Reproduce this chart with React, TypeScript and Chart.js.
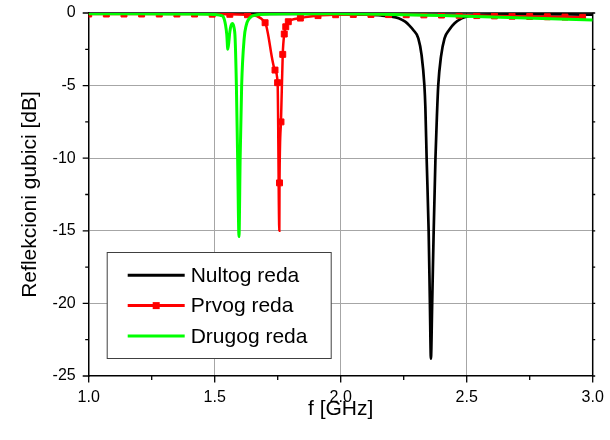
import React, { useEffect, useRef } from "react";
import { Chart, registerables } from "chart.js";

Chart.register(...registerables);

// Axis ranges / ticks
const xMin = 1.0;
const xMax = 3.0;
const xStep = 0.5;
const yMin = -25;
const yMax = 0;
const yStep = 5;

// Series: Nultog reda (black)
const nultogFreq = [1.0, 1.2, 1.4, 1.6, 1.8, 2.0, 2.1, 2.16, 2.2, 2.23, 2.256, 2.272, 2.288, 2.308, 2.321, 2.332, 2.336, 2.341, 2.349, 2.354, 2.358, 2.363, 2.369, 2.376, 2.382, 2.387, 2.398, 2.412, 2.43, 2.452, 2.48, 2.505, 2.55, 2.6, 2.7, 2.8, 2.9, 3.0];
const nultogLoss = [-0.03, -0.03, -0.04, -0.05, -0.06, -0.08, -0.12, -0.17, -0.24, -0.36, -0.6, -0.85, -1.17, -1.74, -2.9, -4.96, -6.5, -10, -15, -20, -23.8, -20, -15, -10, -7, -5, -3, -1.74, -1.17, -0.71, -0.37, -0.22, -0.14, -0.11, -0.1, -0.1, -0.1, -0.11];

// Series: Prvog reda (red, square markers)
const prvogFreq = [1.0, 1.07, 1.14, 1.21, 1.28, 1.35, 1.42, 1.49, 1.56, 1.63, 1.7, 1.7393, 1.7496, 1.7565, 1.7572, 1.763, 1.77, 1.776, 1.782, 1.792, 1.84, 1.91, 1.98, 2.05, 2.12, 2.19, 2.26, 2.33, 2.4, 2.47, 2.54, 2.61, 2.68, 2.75, 2.82, 2.89, 2.96];
const prvogLoss = [-0.07, -0.07, -0.07, -0.07, -0.07, -0.07, -0.07, -0.08, -0.09, -0.12, -0.67, -3.93, -4.8, -15.0, -11.7, -7.5, -2.85, -1.45, -0.95, -0.6, -0.35, -0.18, -0.12, -0.1, -0.1, -0.11, -0.12, -0.13, -0.14, -0.16, -0.18, -0.2, -0.22, -0.24, -0.26, -0.28, -0.3];

// Series: Drugog reda (green)
const drugogFreq = [1.0, 1.2, 1.4, 1.48, 1.51, 1.525, 1.534, 1.543, 1.548, 1.552, 1.556, 1.56, 1.565, 1.57, 1.576, 1.581, 1.586, 1.591, 1.5964, 1.601, 1.607, 1.617, 1.625, 1.633, 1.645, 1.66, 1.7, 1.8, 2.0, 2.2, 2.4, 2.6, 2.8, 3.0];
const drugogLoss = [-0.06, -0.06, -0.07, -0.08, -0.12, -0.17, -0.26, -0.83, -1.5, -2.5, -2.0, -1.3, -0.85, -0.72, -0.95, -1.74, -4.96, -10, -15.4, -10, -4.96, -1.74, -0.85, -0.48, -0.25, -0.15, -0.08, -0.06, -0.06, -0.1, -0.18, -0.28, -0.38, -0.48];

const seriesLabels = ["Nultog reda", "Prvog reda", "Drugog reda"];

const FONT = "'Liberation Sans', Arial, Helvetica, sans-serif";

const toPoints = (xs: number[], ys: number[]) => xs.map((x, i) => ({ x, y: ys[i] }));
const prvogMinValue = Math.min(...prvogLoss);

const framePlugin = {
  id: "frameTicks",
  beforeDatasetsDraw(chart: any) {
    const { ctx, chartArea: a, scales } = chart;
    const xs = scales.x;
    const ys = scales.y;
    ctx.save();
    ctx.strokeStyle = "#000";
    ctx.lineWidth = 1.5;
    ctx.beginPath();
    ctx.moveTo(a.left, a.top);
    ctx.lineTo(a.right, a.top);
    ctx.lineTo(a.right, a.bottom);
    ctx.stroke();

    ctx.lineWidth = 1.3;
    ctx.beginPath();
    const nx = Math.round((xMax - xMin) / (xStep / 2));
    for (let i = 0; i <= nx; i++) {
      const v = xMin + (i * xStep) / 2;
      const px = xs.getPixelForValue(v);
      const len = i % 2 === 0 ? 6.5 : 4;
      ctx.moveTo(px, a.bottom);
      ctx.lineTo(px, a.bottom + len);
    }
    const ny = Math.round((yMax - yMin) / (yStep / 2));
    for (let i = 0; i <= ny; i++) {
      const v = yMin + (i * yStep) / 2;
      const py = ys.getPixelForValue(v);
      const len = i % 2 === 0 ? 6 : 3.5;
      ctx.moveTo(a.left, py);
      ctx.lineTo(a.left - len, py);
      ctx.moveTo(a.right, py);
      ctx.lineTo(a.right + 2.5, py);
    }
    ctx.stroke();
    ctx.restore();
  },
};

const legendPlugin = {
  id: "boxLegend",
  afterDatasetsDraw(chart: any) {
    const { ctx, chartArea: a } = chart;
    const bx = a.left + 18.5;
    const by = a.top + 239.5;
    const bw = 224;
    const bh = 106;
    ctx.save();
    ctx.fillStyle = "#fff";
    ctx.fillRect(bx, by, bw, bh);
    ctx.strokeStyle = "#404040";
    ctx.lineWidth = 1;
    ctx.strokeRect(bx, by, bw, bh);
    const rowGap = 30.4;
    ctx.font = `21px ${FONT}`;
    ctx.textBaseline = "middle";
    ctx.textAlign = "left";
    chart.data.datasets.forEach((ds: any) => {
      const row = seriesLabels.indexOf(ds.label);
      const y = by + 22.7 + row * rowGap;
      const x0 = bx + 20.5;
      const x1 = bx + 77.5;
      ctx.strokeStyle = ds.borderColor;
      ctx.lineWidth = 3;
      ctx.beginPath();
      ctx.moveTo(x0, y);
      ctx.lineTo(x1, y);
      ctx.stroke();
      if (ds.pointStyle === "rect") {
        ctx.fillStyle = ds.borderColor;
        ctx.fillRect((x0 + x1) / 2 - 3.5, y - 3.5, 7, 7);
      }
      ctx.fillStyle = "#000";
      ctx.fillText(ds.label, bx + 83.5, y + 1);
    });
    ctx.restore();
  },
};

export default function App() {
  const canvasRef = useRef<HTMLCanvasElement | null>(null);

  useEffect(() => {
    document.body.style.margin = "0";
    const canvas = canvasRef.current;
    if (!canvas) return;
    const gridColor = (ctx: any) => {
      const v = ctx.tick ? ctx.tick.value : null;
      if (v === null) return "rgba(0,0,0,0)";
      const sc = ctx.scale;
      if (Math.abs(v - sc.min) < 1e-9 || Math.abs(v - sc.max) < 1e-9) return "rgba(0,0,0,0)";
      return "#a6a6a6";
    };
    const chart = new Chart(canvas, {
      type: "line",
      data: {
        datasets: [
          {
            label: seriesLabels[2],
            data: toPoints(drugogFreq, drugogLoss),
            borderColor: "#00ff00",
            backgroundColor: "#00ff00",
            borderWidth: 3,
            pointRadius: 0,
            cubicInterpolationMode: "monotone",
            order: 0,
          },
          {
            label: seriesLabels[1],
            data: toPoints(prvogFreq, prvogLoss),
            borderColor: "#ff0000",
            backgroundColor: "#ff0000",
            borderWidth: 2.5,
            pointStyle: "rect",
            pointRadius: (c: any) => (c.raw && c.raw.y === prvogMinValue ? 0 : 4.2),
            pointBackgroundColor: "#ff0000",
            pointBorderColor: "#ff0000",
            pointBorderWidth: 1,
            cubicInterpolationMode: "monotone",
            order: 1,
          },
          {
            label: seriesLabels[0],
            data: toPoints(nultogFreq, nultogLoss),
            borderColor: "#000000",
            backgroundColor: "#000000",
            borderWidth: 2.7,
            pointRadius: 0,
            cubicInterpolationMode: "monotone",
            order: 2,
          },
        ] as any,
      },
      options: {
        animation: false,
        responsive: false,
        devicePixelRatio: 1,
        layout: { padding: { left: 0, top: 13, right: 17.3, bottom: 0 } },
        plugins: {
          legend: { display: false },
          tooltip: { enabled: false },
        },
        scales: {
          x: {
            type: "linear",
            min: xMin,
            max: xMax,
            afterFit: (s: any) => {
              s.height = 64;
              s.paddingLeft = 0;
              s.paddingRight = 0;
            },
            ticks: {
              stepSize: xStep,
              color: "#000",
              padding: 12,
              font: { family: FONT, size: 16 },
              callback: (v: any) => Number(v).toFixed(1),
            },
            grid: { color: gridColor, lineWidth: 1, drawTicks: false },
            border: { display: true, color: "#000", width: 1.5 },
            title: {
              display: true,
              text: "f [GHz]",
              color: "#000",
              font: { family: FONT, size: 21 },
              padding: { top: 0, bottom: 18 },
            },
          },
          y: {
            type: "linear",
            min: yMin,
            max: yMax,
            afterFit: (s: any) => {
              s.width = 88.7;
              s.paddingTop = 0;
              s.paddingBottom = 0;
            },
            ticks: {
              stepSize: yStep,
              color: "#000",
              padding: 13,
              font: { family: FONT, size: 16 },
              callback: (v: any) => String(v),
            },
            grid: { color: gridColor, lineWidth: 1, drawTicks: false },
            border: { display: true, color: "#000", width: 1.5 },
            title: {
              display: true,
              text: "Reflekcioni gubici [dB]",
              color: "#000",
              font: { family: FONT, size: 21 },
              padding: { top: 17.5, bottom: 0 },
            },
          },
        },
      } as any,
      plugins: [framePlugin, legendPlugin],
    });
    return () => chart.destroy();
  }, []);

  return (
    <div style={{ width: 610, height: 440 }}>
      <canvas ref={canvasRef} width={610} height={440} style={{ width: 610, height: 440, display: "block" }} />
    </div>
  );
}
